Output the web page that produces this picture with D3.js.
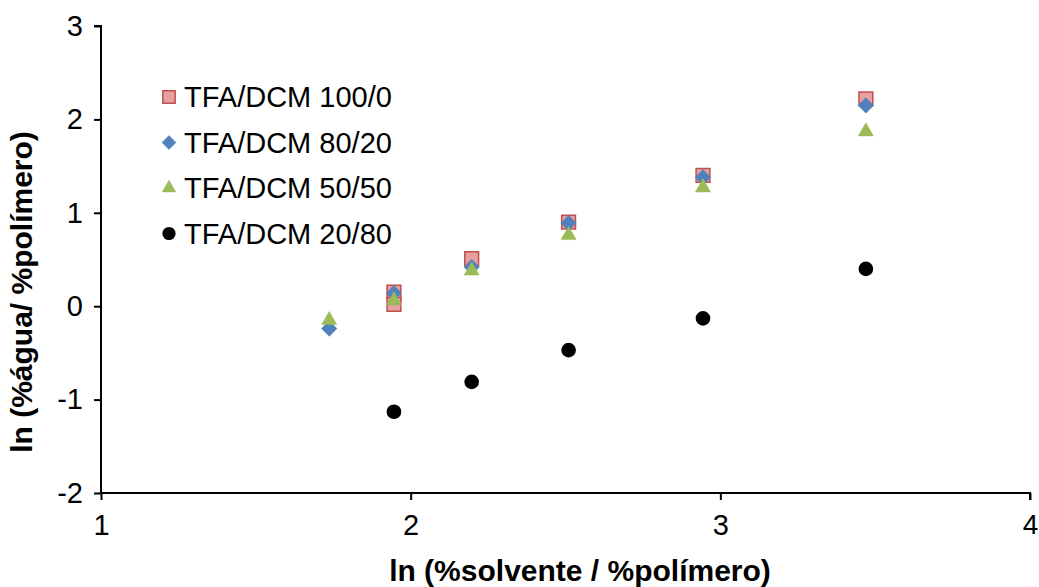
<!DOCTYPE html>
<html>
<head>
<meta charset="utf-8">
<script src="https://cdn.jsdelivr.net/npm/d3@7"></script>
<style>
  body { margin: 0; background: #fff; }
  text { font-family: "Liberation Sans", Arial, sans-serif; }
</style>
</head>
<body>
<div id="chart"></div>
<script>
// data
const xTicks = [1, 2, 3, 4];
const yTicks = [-2, -1, 0, 1, 2, 3];

const seriesNames = ["TFA/DCM 100/0", "TFA/DCM 80/20", "TFA/DCM 50/50", "TFA/DCM 20/80"];

const x100 = [1.946, 1.946, 2.197, 2.51, 2.944, 3.47];
const y100 = [0.15, 0.02, 0.51, 0.90, 1.40, 2.22];

const x80 = [1.737, 1.946, 2.197, 2.51, 2.944, 3.47];
const y80 = [-0.24, 0.14, 0.42, 0.89, 1.38, 2.15];

const x50 = [1.737, 1.946, 2.197, 2.51, 2.944, 3.47];
const y50 = [-0.15, 0.06, 0.38, 0.76, 1.27, 1.87];

const x20 = [1.946, 2.197, 2.51, 2.944, 3.47];
const y20 = [-1.13, -0.81, -0.47, -0.13, 0.40];

const width = 1039, height = 587;
const margin = {top: 26, right: 9, bottom: 94, left: 101};
const fontSize = 29;

const svg = d3.select("#chart").append("svg")
    .attr("width", width)
    .attr("height", height);

const xScale = d3.scaleLinear().domain([1, 4]).range([margin.left, width - margin.right]);
const yScale = d3.scaleLinear().domain([-2, 3]).range([height - margin.bottom, margin.top]);

const xAxis = d3.axisBottom(xScale).tickValues(xTicks).tickSize(7).tickPadding(14).tickFormat(d3.format("d"));
const yAxis = d3.axisLeft(yScale).tickValues(yTicks).tickSize(7).tickPadding(11).tickFormat(d => d < 0 ? "-" + Math.abs(d) : d);

const gx = svg.append("g")
    .attr("transform", `translate(0, ${yScale(-2)})`)
    .call(xAxis);
const gy = svg.append("g")
    .attr("transform", `translate(${xScale(1)}, 0)`)
    .call(yAxis);

[gx, gy].forEach(g => {
    g.select(".domain").attr("stroke", "#000").attr("stroke-width", 2);
    g.selectAll(".tick line").attr("stroke", "#000").attr("stroke-width", 2);
    g.selectAll(".tick text").attr("font-size", fontSize).attr("fill", "#000")
        .style("font-family", "'Liberation Sans', Arial, sans-serif");
});
gx.select(".domain").attr("d", `M${xScale(1)},0H${xScale(4)}V7`);
gy.select(".domain").attr("d", `M-7,${yScale(3)}H0V${yScale(-2)}`);
// keep the last x label inside the window
gx.selectAll(".tick text").filter(d => d === 4).attr("font-size", 28);

// axis titles
svg.append("text")
    .attr("x", 580)
    .attr("y", 581)
    .attr("text-anchor", "middle")
    .attr("font-size", 30)
    .attr("font-weight", "bold")
    .text("ln (%solvente / %polímero)");

svg.append("text")
    .attr("transform", `translate(32, 292) rotate(-90)`)
    .attr("text-anchor", "middle")
    .attr("font-size", 30)
    .attr("font-weight", "bold")
    .text("ln (%água/ %polímero)");

// markers
const diamond = {
    draw(ctx, size) {
        const r = Math.sqrt(size / 2);
        ctx.moveTo(0, -r); ctx.lineTo(r, 0); ctx.lineTo(0, r); ctx.lineTo(-r, 0); ctx.closePath();
    }
};

const styles = [
    {sym: d3.symbolSquare, size: 190, fill: "#E6A0A0", stroke: "#C0504D", sw: 1.5},
    {sym: diamond, size: 120, fill: "#4F81BD", stroke: "#4F81BD", sw: 0.5},
    {sym: d3.symbolTriangle, size: 100, fill: "#9BBB59", stroke: "#9BBB59", sw: 0.5},
    {sym: d3.symbolCircle, size: 170, fill: "#000", stroke: "#000", sw: 0}
];

const series = [
    d3.zip(x100, y100),
    d3.zip(x80, y80),
    d3.zip(x50, y50),
    d3.zip(x20, y20)
];

const pts = svg.append("g").attr("class", "points");
series.forEach((s, i) => {
    const st = styles[i];
    pts.append("g").selectAll("path")
        .data(s)
        .join("path")
        .attr("transform", d => `translate(${xScale(d[0])},${yScale(d[1])})`)
        .attr("d", d3.symbol().type(st.sym).size(st.size))
        .attr("fill", st.fill)
        .attr("stroke", st.stroke)
        .attr("stroke-width", st.sw);
});

// legend
const legend = svg.append("g").attr("transform", "translate(169, 97)");
seriesNames.forEach((name, i) => {
    const st = styles[i];
    const row = legend.append("g").attr("transform", `translate(0, ${i * 45.5})`);
    row.append("path")
        .attr("d", d3.symbol().type(st.sym).size(st.size * 0.8))
        .attr("fill", st.fill)
        .attr("stroke", st.stroke)
        .attr("stroke-width", st.sw);
    row.append("text")
        .attr("x", 15)
        .attr("y", 10)
        .attr("font-size", fontSize)
        .text(name);
});
</script>
</body>
</html>
